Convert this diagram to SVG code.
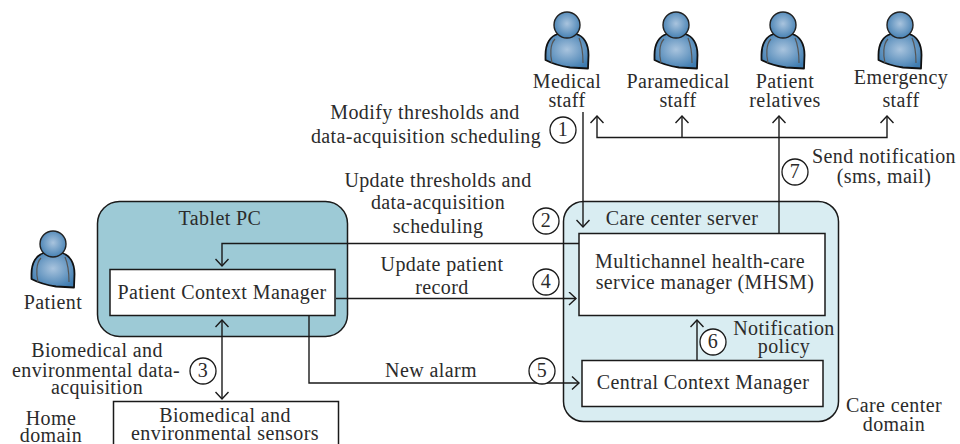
<svg xmlns="http://www.w3.org/2000/svg" width="960" height="444" viewBox="0 0 960 444">
<style>
text{font-family:"Liberation Serif","Times New Roman",serif;font-size:20px;letter-spacing:.4px;fill:#2b2b2b;text-anchor:middle}
.box{fill:#fff;stroke:#1a1a1a;stroke-width:1.5}
.con{fill:none;stroke:#1a1a1a;stroke-width:1.4}
.num{fill:#fff;stroke:#1a1a1a;stroke-width:1.3}
</style>
<defs>
<radialGradient id="g" cx="50%" cy="45%" r="60%"><stop offset="0" stop-color="#a9c4de"/><stop offset="1" stop-color="#3f7cb0"/></radialGradient>
<marker id="a" viewBox="0 0 14 14" refX="12.5" refY="7" markerWidth="14" markerHeight="14" markerUnits="userSpaceOnUse" orient="auto-start-reverse"><path d="M5.5 .5L12.5 7L5.5 13.5" fill="none" stroke="#1a1a1a" stroke-width="1.4"/></marker>
<symbol id="p" overflow="visible">
<path d="M-9 9C-17 11-21.500 19-21.500 30L-21.500 35C-14 39-7 41 3 42.500L21 43.500L21.500 30C21.500 19 17 11 9 9Z" fill="url(#g)" stroke="#111" stroke-width="1.8" stroke-linejoin="round"/>
<path d="M-12 14C-17 19-17 30-15 38M12 13C15 20 16 30 16 38" fill="none" stroke="#555" stroke-width="1.2"/>
<circle r="13" fill="url(#g)" stroke="#222" stroke-width="1.4"/>
</symbol>
</defs>
<g id="tablet"><rect x="97.500" y="201.500" width="250" height="135" rx="22" fill="#9dcad6" stroke="#1a1a1a" stroke-width="1.5"/><text x="220" y="225">Tablet PC</text></g>
<g id="care-server"><rect x="563.500" y="201.500" width="275" height="220" rx="20" fill="#d9edf2" stroke="#1a1a1a" stroke-width="1.5"/><text x="682" y="225">Care center server</text></g>
<g id="pcm"><rect class="box" x="110" y="269.500" width="225" height="46"/><text x="222" y="299">Patient Context Manager</text></g>
<g id="sensors"><rect class="box" x="113.500" y="401.500" width="225" height="60"/><text x="225" y="422">Biomedical and</text><text x="225" y="440">environmental sensors</text></g>
<g id="mhsm"><rect class="box" x="579" y="233.500" width="246" height="82"/><text x="700" y="268">Multichannel health-care</text><text x="705" y="289">service manager (MHSM)</text></g>
<g id="ccm"><rect class="box" x="582" y="360.500" width="241" height="46"/><text x="703" y="389">Central Context Manager</text></g>
<g id="connectors">
<path class="con" d="M583 112V227" marker-end="url(#a)"/>
<path class="con" d="M579 243.500H222V266" marker-end="url(#a)"/>
<path class="con" d="M336 298.500H576" marker-end="url(#a)"/>
<path class="con" d="M309 316V383H579" marker-end="url(#a)"/>
<path class="con" d="M222 320V399" marker-start="url(#a)" marker-end="url(#a)"/>
<path class="con" d="M697 360V320" marker-end="url(#a)"/>
<path class="con" d="M779 233V116" marker-end="url(#a)"/>
<path class="con" d="M779 137.500H597V116" marker-end="url(#a)"/>
<path class="con" d="M779 137.500H887V116" marker-end="url(#a)"/>
<path class="con" d="M682 137.500V116" marker-end="url(#a)"/>
</g>
<g id="medical"><use href="#p" x="567" y="25"/><text x="567" y="88">Medical</text><text x="567" y="107">staff</text></g>
<g id="paramedical"><use href="#p" x="676" y="25"/><text x="678" y="88">Paramedical</text><text x="678" y="107">staff</text></g>
<g id="relatives"><use href="#p" x="783" y="25"/><text x="785" y="88">Patient</text><text x="785" y="107">relatives</text></g>
<g id="emergency"><use href="#p" x="900" y="25"/><text x="901" y="84">Emergency</text><text x="901" y="107">staff</text></g>
<g id="patient"><use href="#p" x="53" y="244"/><text x="53" y="309">Patient</text></g>
<g id="labels">
<text x="425" y="119">Modify thresholds and</text><text x="426" y="143">data-acquisition scheduling</text>
<text x="438" y="187">Update thresholds and</text><text x="438" y="209">data-acquisition</text><text x="438" y="233">scheduling</text>
<text x="442" y="271">Update patient</text><text x="442" y="294">record</text>
<text x="431" y="377">New alarm</text>
<text x="97" y="357">Biomedical and</text><text x="96" y="377">environmental data-</text><text x="97" y="394">acquisition</text>
<text x="51" y="425">Home</text><text x="51" y="442">domain</text>
<text x="884" y="163">Send notification</text><text x="884" y="183">(sms, mail)</text>
<text x="784" y="335">Notification</text><text x="784" y="353">policy</text>
<text x="894" y="412">Care center</text><text x="894" y="431">domain</text>
</g>
<g id="step1"><circle class="num" cx="563" cy="130" r="13"/><text x="563" y="136">1</text></g>
<g id="step2"><circle class="num" cx="546" cy="221" r="13"/><text x="546" y="227">2</text></g>
<g id="step3"><circle class="num" cx="203" cy="371" r="13"/><text x="203" y="377">3</text></g>
<g id="step4"><circle class="num" cx="546" cy="282" r="13"/><text x="546" y="288">4</text></g>
<g id="step5"><circle class="num" cx="542" cy="371" r="13"/><text x="542" y="377">5</text></g>
<g id="step6"><circle class="num" cx="713" cy="342" r="13"/><text x="713" y="348">6</text></g>
<g id="step7"><circle class="num" cx="795" cy="172" r="13"/><text x="795" y="178">7</text></g>
</svg>
